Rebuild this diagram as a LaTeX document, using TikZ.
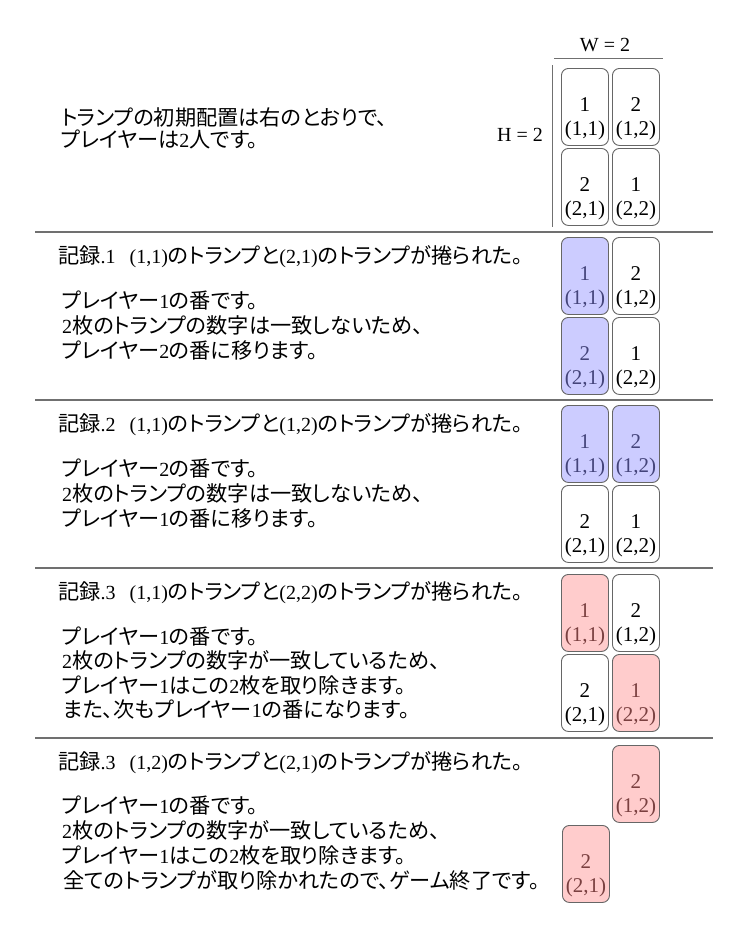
\documentclass[tikz,border=0pt]{standalone}
\usepackage{fontspec}
\setmainfont{Liberation Serif}
\newfontfamily\jp[CharacterWidth=AlternateProportional,Scale=1.06]{Noto Sans CJK JP}
\newcommand\J[1]{{\jp #1}}
\definecolor{cblue}{HTML}{CCCCFF}
\definecolor{cred}{HTML}{FFCCCC}
\definecolor{tblue}{HTML}{44447A}
\definecolor{tred}{HTML}{7A4040}
\definecolor{cardline}{HTML}{666666}
\definecolor{sepgray}{HTML}{707070}
\newcommand\mycard[6]{%
  \node[card,#6] (#1) at (#2,#3) {};
  \node[#6,cardtext] (#1t) at ([yshift=-12pt]#1.center) {#4\\#5};}
\begin{document}
\begin{tikzpicture}[x=1pt,y=-1pt,
  txt/.style={anchor=base west, inner sep=0pt, font=\fontsize{20}{24}\selectfont},
  lbl/.style={inner sep=0pt, font=\fontsize{20}{24}\selectfont},
  card/.style={draw=cardline, line width=0.9pt, rounded corners=7pt, minimum width=47pt, minimum height=77pt, inner sep=0pt, anchor=north west},
  cardtext/.style={draw=none, fill=none, align=center, inner sep=0pt, font=\fontsize{21}{24}\selectfont},
  plaincard/.style={fill=white, text=black},
  selblue/.style={fill=cblue, text=tblue},
  selred/.style={fill=cred, text=tred},
  sepline/.style={draw=sepgray, line width=1.3pt},
  dimline/.style={draw=sepgray, line width=1pt}]
\path[use as bounding box] (0,0) rectangle (750,948);

% ---------- initial layout ----------
\node[txt] (i1) at (61,125) {\J{トランプの初期配置は右のとおりで、}};
\node[txt] (i2) at (61,147) {\J{プレイヤーは}2\J{人です。}};
\node[lbl] (W) at (605,45) {W = 2};
\coordinate (wl) at (554,58); \coordinate (wr) at (663,58);
\draw[dimline] (wl) -- (wr);
\node[lbl] (H) at (520,135) {H = 2};
\coordinate (ht) at (552,65); \coordinate (hb) at (552,227);
\draw[dimline] (ht) -- (hb);
\mycard{a11}{561}{68}{1}{(1,1)}{plaincard}
\mycard{a12}{612}{68}{2}{(1,2)}{plaincard}
\mycard{a21}{561}{148}{2}{(2,1)}{plaincard}
\mycard{a22}{612}{148}{1}{(2,2)}{plaincard}

% separators
\coordinate (l1) at (35,232); \coordinate (r1) at (713,232);
\coordinate (l2) at (35,400); \coordinate (r2) at (713,400);
\coordinate (l3) at (35,568); \coordinate (r3) at (713,568);
\coordinate (l4) at (35,738); \coordinate (r4) at (713,738);
\draw[sepline] (l1) -- (r1);
\draw[sepline] (l2) -- (r2);
\draw[sepline] (l3) -- (r3);
\draw[sepline] (l4) -- (r4);

% ---------- record 1 ----------
\node[txt] (s1t) at (58,263) {\J{記録}.1\hspace{14pt}(1,1)\J{のトランプと}(2,1)\J{のトランプが捲られた。}};
\node[txt] (s1a) at (62,308) {\J{プレイヤー}1\J{の番です。}};
\node[txt] (s1b) at (62,333) {2\J{枚のトランプの数字は一致しないため、}};
\node[txt] (s1c) at (62,358) {\J{プレイヤー}2\J{の番に移ります。}};
\mycard{b11}{561}{237}{1}{(1,1)}{selblue}
\mycard{b12}{612}{237}{2}{(1,2)}{plaincard}
\mycard{b21}{561}{317}{2}{(2,1)}{selblue}
\mycard{b22}{612}{317}{1}{(2,2)}{plaincard}

% ---------- record 2 ----------
\node[txt] (s2t) at (58,431) {\J{記録}.2\hspace{14pt}(1,1)\J{のトランプと}(1,2)\J{のトランプが捲られた。}};
\node[txt] (s2a) at (62,476) {\J{プレイヤー}2\J{の番です。}};
\node[txt] (s2b) at (62,501) {2\J{枚のトランプの数字は一致しないため、}};
\node[txt] (s2c) at (62,526) {\J{プレイヤー}1\J{の番に移ります。}};
\mycard{c11}{561}{405}{1}{(1,1)}{selblue}
\mycard{c12}{612}{405}{2}{(1,2)}{selblue}
\mycard{c21}{561}{485}{2}{(2,1)}{plaincard}
\mycard{c22}{612}{485}{1}{(2,2)}{plaincard}

% ---------- record 3 ----------
\node[txt] (s3t) at (58,599) {\J{記録}.3\hspace{14pt}(1,1)\J{のトランプと}(2,2)\J{のトランプが捲られた。}};
\node[txt] (s3a) at (62,644) {\J{プレイヤー}1\J{の番です。}};
\node[txt] (s3b) at (62,668) {2\J{枚のトランプの数字が一致しているため、}};
\node[txt] (s3c) at (62,693) {\J{プレイヤー}1\J{はこの}2\J{枚を取り除きます。}};
\node[txt] (s3d) at (63,717) {\J{また、次もプレイヤー}1\J{の番になります。}};
\mycard{d11}{561}{574}{1}{(1,1)}{selred}
\mycard{d12}{612}{574}{2}{(1,2)}{plaincard}
\mycard{d21}{561}{654}{2}{(2,1)}{plaincard}
\mycard{d22}{612}{654}{1}{(2,2)}{selred}

% ---------- record 3 (final) ----------
\node[txt] (s4t) at (58,769) {\J{記録}.3\hspace{14pt}(1,2)\J{のトランプと}(2,1)\J{のトランプが捲られた。}};
\node[txt] (s4a) at (62,813) {\J{プレイヤー}1\J{の番です。}};
\node[txt] (s4b) at (62,838) {2\J{枚のトランプの数字が一致しているため、}};
\node[txt] (s4c) at (62,863) {\J{プレイヤー}1\J{はこの}2\J{枚を取り除きます。}};
\node[txt] (s4d) at (63,888) {\J{全てのトランプが取り除かれたので、ゲーム終了です。}};
\mycard{e12}{612}{745}{2}{(1,2)}{selred}
\mycard{e21}{562}{825}{2}{(2,1)}{selred}
\end{tikzpicture}
\end{document}
